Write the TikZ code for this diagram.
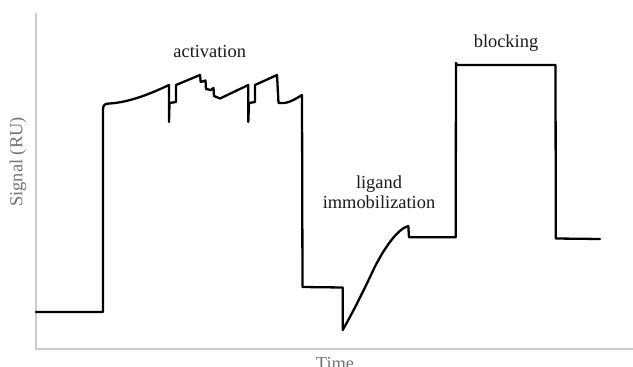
\documentclass[tikz,border=0pt]{standalone}
\usepackage{fontspec}
\setmainfont{Liberation Serif}
\definecolor{axisgray}{gray}{0.80}
\definecolor{titlegray}{gray}{0.45}
\begin{document}
\begin{tikzpicture}[x=1pt,y=-1pt,
  axisline/.style={draw=axisgray,line width=1.4pt},
  trace/.style={draw=black,line width=2.3pt,line join=round,line cap=round},
  lbl/.style={font=\fontsize{18.4}{20}\selectfont,text=black!90,align=center,inner sep=0pt},
  axtitle/.style={font=\fontsize{18.4}{20}\selectfont,text=titlegray,inner sep=0pt}]
\useasboundingbox (0,0) rectangle (633,367);
% axes
\coordinate (ytop) at (36,13);
\coordinate (origin) at (36,349);
\coordinate (xend) at (633,349);
\draw[axisline] (ytop) -- (origin) -- (xend);
% sensorgram trace
\draw[trace] (36,312) -- (103,312) -- (103,110)
  .. controls (103,104.5) and (105,103.5) .. (110,103.5)
  .. controls (130,102) and (150,94) .. (169,85)
  -- (169,122) -- (169.5,103) -- (176,102) -- (176,85)
  -- (200,75) -- (200.7,82) -- (205.5,80.5) -- (206,89) -- (211,90) -- (213.5,88)
  -- (214,96) -- (220,98.5) -- (248.3,85)
  -- (248.3,122) -- (249,103) -- (255,102) -- (255,85)
  -- (277,75) -- (278.5,103) -- (285,103)
  .. controls (292,101.5) and (297,98) .. (302,95)
  -- (302.5,287) -- (342.7,287.5) -- (342.7,330)
  .. controls (352,314) and (364,290) .. (373.3,270)
  .. controls (383,250) and (397,229) .. (408.3,226)
  -- (409,237.3) -- (455.7,237.3) -- (456,63) -- (457,65) -- (555.5,65)
  -- (555.8,238.5) -- (600,239);
% labels
\node[lbl] (act) at (209.7,51) {activation};
\node[lbl] (lig) at (379,192) {ligand\\immobilization};
\node[lbl] (blk) at (506,43) {blocking};
\node[axtitle,rotate=90] (ylab) at (18,162) {Signal (RU)};
\node[axtitle,anchor=north] (xlab) at (335,357.5) {Time};
\end{tikzpicture}
\end{document}
